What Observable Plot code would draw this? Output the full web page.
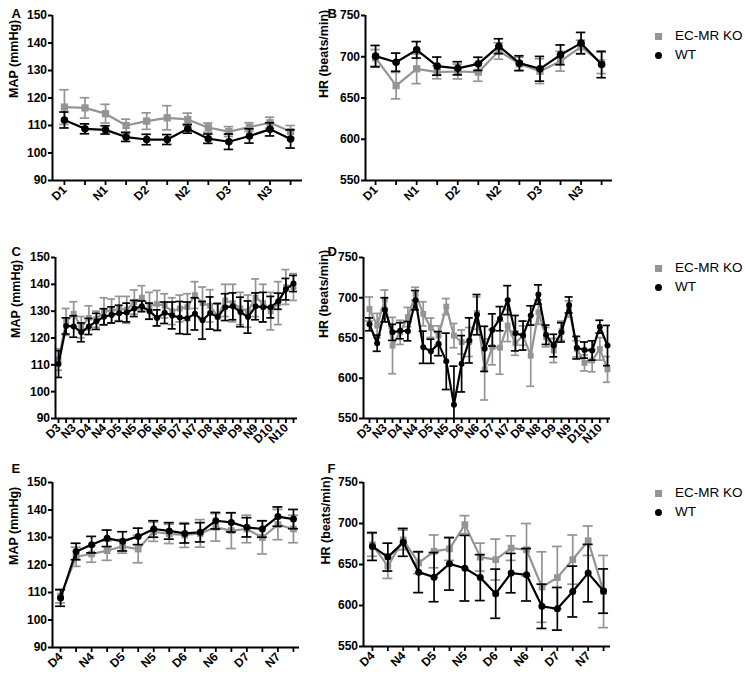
<!DOCTYPE html>
<html><head><meta charset="utf-8">
<script src="https://cdn.jsdelivr.net/npm/d3@7"></script>
<script src="https://cdn.jsdelivr.net/npm/@observablehq/plot@0.6"></script>
<style>
body{margin:0;background:#fff;}
#wrap{position:relative;width:745px;height:674px;font-family:"Liberation Sans",Arial,sans-serif;overflow:hidden;}
#wrap svg{position:absolute;}
.leg{position:absolute;font-size:13.5px;color:#000;line-height:14px;white-space:nowrap;}
.sq{position:absolute;width:7px;height:7px;background:#949494;}
.ci{position:absolute;width:7px;height:7px;background:#000;border-radius:50%;}
</style></head><body><div id="wrap"></div>
<script>
// ---- tick labels ----
const labelsAB = ["D1","","N1","","D2","","N2","","D3","","N3",""];
const labelsCD = ["D3","","N3","","D4","","N4","","D5","","N5","","D6","","N6","","D7","","N7","","D8","","N8","","D9","","N9","","D10","","N10",""];
const labelsEF = ["D4","","N4","","D5","","N5","","D6","","N6","","D7","","N7",""];
const mapTicks = [90,100,110,120,130,140,150];
const hrTicks = [550,600,650,700,750];
const seriesNames = ["EC-MR KO","WT"];

// ---- Panel A: MAP ----
const koA    = [116.7,116.4,114.3,110,111.6,112.8,112.2,109.2,107.8,109.4,111,107.8];
const koAErr = [6.3,3.7,3.4,2.3,3,4.4,2.3,1.7,1.8,1.6,2,2.2];
const wtA    = [112,108.8,108.4,105.8,104.9,104.9,108.8,105.2,104.1,106.2,108.6,105.1];
const wtAErr = [2.9,1.8,1.5,1.6,1.9,1.8,1.6,1.7,2.8,2.6,2.4,3.3];
// ---- Panel B: HR ----
const koB    = [698.7,665,685.4,681.3,682.1,681.3,707,691.4,682.5,694.6,712,692.6];
const koBErr = [10,16,18,8,9,11,10,8,15,12,8,13];
const wtB    = [700.7,693.4,708.4,688.6,686,691.4,712.8,692.2,685.4,702.3,716.5,690.6];
const wtBErr = [13,11,10,11,8,8,9,9,15,12,13,16];
// ---- Panel C: MAP ----
const koC    = [112,126,129,124,127.5,127,130,130,131,130.5,133.4,135,132,132.7,132,130,131,131.5,136,133,132,128,134,133,131,130,135,133,130,133,139,139];
const koCErr = [4,5,4.5,4,4.5,3,5,4.5,4.5,5,4.5,4.5,5,5,4.5,5,5,5,5,6,6,5,6,7,6,6,7,7,7,8,6.5,5];
const wtC    = [110.3,124.5,124.3,122.1,124.3,126.2,127.9,128.6,129.2,129.5,131,131.8,130,127.5,129.4,128.4,127.6,127.4,129,126.6,129.3,127.8,131.5,131.8,129.7,127.8,131.8,131.5,131.5,133.7,138.2,140.3];
const wtCErr = [5,3,4,3.5,3,3,3,3,3,3.5,3,2,3,3,4,5,6,6,6,7,6,5,5,5,5.5,6,5,5.5,4,3,4,3];
// ---- Panel D: HR ----
const koD    = [686,665.5,697.6,640.6,657,676,705,680,662.7,653,689,653,645,645,681,611,638.6,638,665.6,643.5,653,628,682,651,634.5,659,686,636.5,619,622,636.5,611];
const koDErr = [15,15,12,35,15,12,8,15,12,12,10,15,15,18,20,38,22,33,20,15,12,38,15,12,15,12,10,10,10,14,14,16];
const wtD    = [667,643.5,685,657,659,658.5,697,638.5,633.5,643,621,567,618,647,679,636.5,660,674,697,656,653,678,704,654,640.6,657,691,638,635,634.5,664,640.6];
const wtDErr = [8,10,15,10,10,12,12,20,15,15,35,48,35,28,25,28,20,15,18,22,18,12,12,12,14,12,10,14,10,12,8,25];
// ---- Panel E: MAP ----
const koE    = [108.7,123,124,125.2,126.8,125.8,132.1,131.3,130.9,131.5,133.7,132.5,133.1,130,134.7,133.1];
const koEErr = [2.5,3.5,3,3.5,2.5,5,3.5,3.5,4.5,5,5,6.5,5,6,5.5,5];
const wtE    = [108,124.9,127.4,129.7,128.6,130.4,133.1,132.4,131.5,131.9,136.1,135.5,133.7,133.1,137.6,136.7];
const wtEErr = [3,3,3,3,3.5,3,3,3,3.5,3.5,3,3.5,3.5,3,3.5,3.5];
// ---- Panel F: HR ----
const koF    = [674,648,680,652,666,669,698.6,659,656,670,668,622.5,634,656,679,617];
const koFErr = [14,15,12,13,20,14,11,17,25,15,32,43,38,30,18,44];
const wtF    = [672,659,677,640.7,634.6,650.8,645.5,634,614.4,639.5,637.5,599,596,617,639.5,617.6];
const wtFErr = [17,17,17,25,30,32,40,28,30,24,32,27,26,31,35,27];

const GRAY = "#949494";
const FONT = "'Liberation Sans', Arial, sans-serif";
const wrap = document.getElementById("wrap");

function panel(o) {
  const n = o.labels.length;
  const idx = d3.range(n);
  const ko = idx.map(i => ({i, v: o.ko[i], e: o.koErr[i]}));
  const wt = idx.map(i => ({i, v: o.wt[i], e: o.wtErr[i]}));
  const pxPerUnit = (o.w - o.mL - o.mR) / (o.xDomain[1] - o.xDomain[0]);
  const cap = o.capPx / pxPerUnit;
  function series(data, color, symbol) {
    return [
      Plot.ruleX(data, {x: "i", y1: d => d.v - d.e, y2: d => d.v + d.e, stroke: color, strokeWidth: 1.7, clip: true}),
      Plot.ruleY(data, {y: d => d.v + d.e, x1: d => d.i - cap, x2: d => d.i + cap, stroke: color, strokeWidth: 1.7, clip: true}),
      Plot.ruleY(data, {y: d => d.v - d.e, x1: d => d.i - cap, x2: d => d.i + cap, stroke: color, strokeWidth: 1.7, clip: true}),
      Plot.line(data, {x: "i", y: "v", stroke: color, strokeWidth: 2.2}),
      Plot.dot(data, {x: "i", y: "v", symbol, fill: color, stroke: "none", r: symbol === "square" ? o.r + 0.3 : o.r})
    ];
  }
  // rotated category labels, one text mark per labelled tick, placed via the linear x mapping
  const xLabelMarks = idx.filter(i => o.labels[i] !== "").map(i =>
    Plot.text([o.labels[i]], {text: d => d, frameAnchor: "bottom-left", dx: (i - o.xDomain[0]) * pxPerUnit + 3, dy: 10,
      rotate: -45, textAnchor: "end", fontWeight: "bold", fontSize: 12}));
  const svg = Plot.plot({
    width: o.w, height: o.h,
    marginLeft: o.mL, marginRight: o.mR, marginTop: o.mT, marginBottom: o.mB,
    x: {type: "linear", domain: o.xDomain},
    y: {type: "linear", domain: o.yDomain},
    style: {fontFamily: FONT, fontSize: "12px", fontWeight: "bold", color: "#000", background: "transparent", overflow: "visible", maxWidth: "none"},
    marks: [
      ...series(ko, GRAY, "square"),
      ...series(wt, "#000", "circle"),
      Plot.ruleX([o.xDomain[0]], {stroke: "#000", strokeWidth: 2}),
      Plot.ruleY([o.yDomain[0]], {stroke: "#000", strokeWidth: 2}),
      Plot.axisY({ticks: o.yTicks, tickSize: 4, tickPadding: 1.5, strokeWidth: 2, label: null, fontWeight: "bold", fontSize: 12}),
      Plot.axisX({ticks: idx, tickFormat: () => "", tickSize: 5, strokeWidth: 1.8, label: null}),
      ...xLabelMarks,
      Plot.text([o.yLabel], {text: d => d, frameAnchor: "left", rotate: -90, dx: o.ylx, fontWeight: "bold", fontSize: 12.5}),
      Plot.text([o.letter], {text: d => d, frameAnchor: "top-left", dx: o.lx, dy: o.ly, fontWeight: "bold", fontSize: 13})
    ]
  });
  svg.style.left = o.left + "px";
  svg.style.top = o.top + "px";
  wrap.appendChild(svg);
}

function legend(yKo, yWt) {
  const a = document.createElement("div"); a.className = "sq"; a.style.left = "655px"; a.style.top = (yKo - 3.5) + "px"; wrap.appendChild(a);
  const b = document.createElement("div"); b.className = "leg"; b.style.left = "675px"; b.style.top = (yKo - 7) + "px"; b.textContent = seriesNames[0]; wrap.appendChild(b);
  const c = document.createElement("div"); c.className = "ci"; c.style.left = "655px"; c.style.top = (yWt - 3.5) + "px"; wrap.appendChild(c);
  const e = document.createElement("div"); e.className = "leg"; e.style.left = "675px"; e.style.top = (yWt - 7) + "px"; e.textContent = seriesNames[1]; wrap.appendChild(e);
}

panel({letter: "A", labels: labelsAB, ko: koA, koErr: koAErr, wt: wtA, wtErr: wtAErr, yDomain: [90,150], yTicks: mapTicks, yLabel: "MAP (mmHg)",
  left: 0, top: 0, w: 320, h: 225, mT: 15, mB: 45, mL: 52, mR: 18, xDomain: [-0.58, 11.58], capPx: 4.7, r: 3.8, ylx: -39, lx: -41, ly: -7});
panel({letter: "B", labels: labelsAB, ko: koB, koErr: koBErr, wt: wtB, wtErr: wtBErr, yDomain: [550,750], yTicks: hrTicks, yLabel: "HR (beats/min)",
  left: 320, top: 0, w: 300, h: 225, mT: 15, mB: 45, mL: 45, mR: 8, xDomain: [-0.49, 11.53], capPx: 4.7, r: 3.8, ylx: -42, lx: -38, ly: -7});
panel({letter: "C", labels: labelsCD, ko: koC, koErr: koCErr, wt: wtC, wtErr: wtCErr, yDomain: [90,150], yTicks: mapTicks, yLabel: "MAP (mmHg)",
  left: 0, top: 225, w: 320, h: 225, mT: 32, mB: 32, mL: 55, mR: 23, xDomain: [-0.4, 31.53], capPx: 4, r: 3, ylx: -40, lx: -44, ly: -11});
panel({letter: "D", labels: labelsCD, ko: koD, koErr: koDErr, wt: wtD, wtErr: wtDErr, yDomain: [550,750], yTicks: hrTicks, yLabel: "HR (beats/min)",
  left: 320, top: 225, w: 300, h: 225, mT: 32, mB: 32, mL: 43, mR: 10, xDomain: [-0.78, 31.39], capPx: 4, r: 3, ylx: -40, lx: -36, ly: -11});
panel({letter: "E", labels: labelsEF, ko: koE, koErr: koEErr, wt: wtE, wtErr: wtEErr, yDomain: [90,150], yTicks: mapTicks, yLabel: "MAP (mmHg)",
  left: 0, top: 445, w: 320, h: 229, mT: 37, mB: 27, mL: 52, mR: 21, xDomain: [-0.52, 15.39], capPx: 5, r: 3.5, ylx: -39, lx: -41, ly: -19});
panel({letter: "F", labels: labelsEF, ko: koF, koErr: koFErr, wt: wtF, wtErr: wtFErr, yDomain: [550,750], yTicks: hrTicks, yLabel: "HR (beats/min)",
  left: 320, top: 445, w: 300, h: 229, mT: 37, mB: 28, mL: 43, mR: 10, xDomain: [-0.58, 15.45], capPx: 5, r: 3.5, ylx: -38, lx: -36, ly: -19});

legend(36, 55);
legend(268, 287);
legend(493, 512);
</script></body></html>
